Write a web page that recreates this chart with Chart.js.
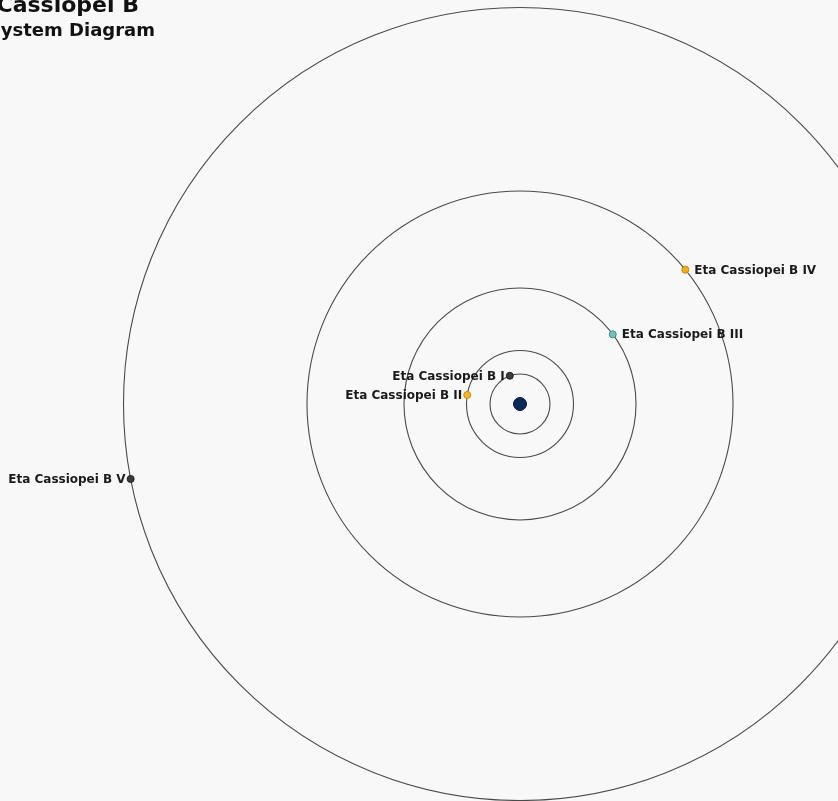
<!DOCTYPE html>
<html>
<head>
<meta charset="utf-8">
<script src="https://cdn.jsdelivr.net/npm/chart.js@4.4.1/dist/chart.umd.min.js"></script>
<style>
  html, body { margin: 0; padding: 0; background: #f8f8f8; overflow: hidden; }
  #wrap { width: 838px; height: 801px; position: relative; }
</style>
</head>
<body>
<div id="wrap"><canvas id="orbits"></canvas></div>
<script>
// planets of the system (distance in AU-ish display units, angle in degrees)
const planets = [
  "Eta Cassiopei B I",
  "Eta Cassiopei B II",
  "Eta Cassiopei B III",
  "Eta Cassiopei B IV",
  "Eta Cassiopei B V",
];
const orbitRadius = [0.3, 0.535, 1.16, 2.13, 3.965];
const angleDeg = [109.9, 170.2, 36.9, 39.1, 190.9];
const fillColors = ["#3d3d3d", "#f5b526", "#6cc3bb", "#f4ab20", "#3a3a3a"];
const edgeColors = ["#222222", "#c8900f", "#3f8f88", "#c4850e", "#202020"];

const toRad = (d) => (d * Math.PI) / 180;
const planetPoints = orbitRadius.map((r, i) => ({
  x: r * Math.cos(toRad(angleDeg[i])),
  y: r * Math.sin(toRad(angleDeg[i])),
}));

const ctx = document.getElementById("orbits");

// background + orbit rings
const orbitPlugin = {
  id: "orbitRings",
  beforeDraw(chart) {
    const c = chart.ctx;
    c.save();
    c.fillStyle = "#f8f8f8";
    c.fillRect(0, 0, chart.width, chart.height);
    c.restore();
  },
  beforeDatasetsDraw(chart) {
    const c = chart.ctx;
    const xs = chart.scales.x;
    const ys = chart.scales.y;
    const cx = xs.getPixelForValue(0);
    const cy = ys.getPixelForValue(0);
    c.save();
    c.strokeStyle = "#4a4a4a";
    c.lineWidth = 1.1;
    orbitRadius.forEach((r) => {
      const pr = xs.getPixelForValue(r) - cx;
      c.beginPath();
      c.arc(cx, cy, pr, 0, Math.PI * 2);
      c.stroke();
    });
    c.restore();
  },
  afterDatasetsDraw(chart) {
    const c = chart.ctx;
    const meta = chart.getDatasetMeta(1);
    const cx = chart.scales.x.getPixelForValue(0);
    c.save();
    c.font = "bold 12px 'DejaVu Sans', Verdana, sans-serif";
    c.fillStyle = "#1a1a1a";
    c.textBaseline = "middle";
    meta.data.forEach((pt, i) => {
      if (pt.x < cx) {
        c.textAlign = "right";
        c.fillText(planets[i], pt.x - 5, pt.y + 1);
      } else {
        c.textAlign = "left";
        c.fillText(planets[i], pt.x + 9, pt.y + 1);
      }
    });
    // title, partly outside the frame like the original
    c.fillStyle = "#111";
    c.textAlign = "right";
    c.textBaseline = "alphabetic";
    c.font = "bold 22px 'DejaVu Sans', Verdana, sans-serif";
    c.fillText("Eta Cassiopei B", 139, 12);
    c.font = "bold 18px 'DejaVu Sans', Verdana, sans-serif";
    c.fillText("System Diagram", 155, 36);
    c.restore();
  },
};

new Chart(ctx, {
  type: "scatter",
  data: {
    datasets: [
      {
        label: "Star",
        data: [{ x: 0, y: 0 }],
        backgroundColor: "#0c2a57",
        borderColor: "#061a3a",
        borderWidth: 1,
        pointRadius: 6.5,
      },
      {
        label: "Planets",
        data: planetPoints,
        backgroundColor: fillColors,
        borderColor: edgeColors,
        borderWidth: 1,
        pointRadius: 3.5,
      },
    ],
  },
  options: {
    responsive: true,
    maintainAspectRatio: false,
    animation: false,
    layout: { padding: 0, autoPadding: false },
    scales: {
      x: { type: "linear", min: -5.2, max: 3.18, display: false },
      y: { type: "linear", min: -3.97, max: 4.04, display: false },
    },
    plugins: {
      legend: { display: false },
      tooltip: { enabled: false },
      title: { display: false },
    },
  },
  plugins: [orbitPlugin],
});
</script>
</body>
</html>
